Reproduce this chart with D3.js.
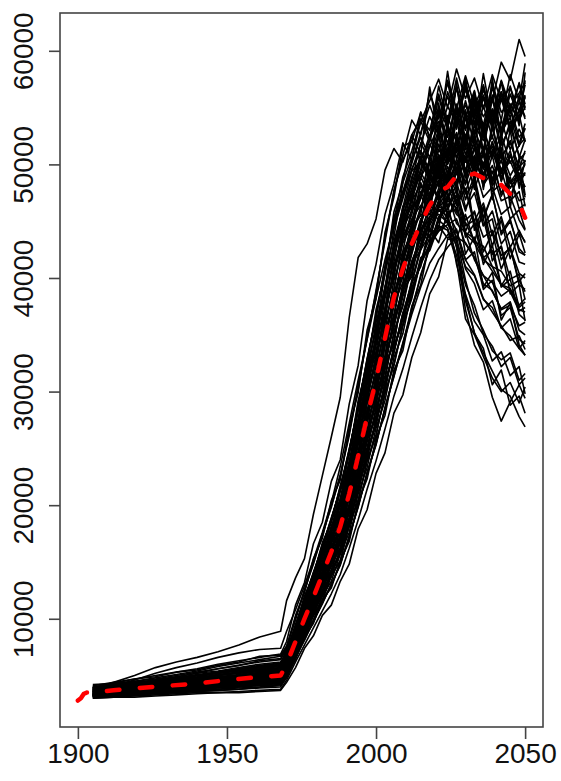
<!DOCTYPE html>
<html>
<head>
<meta charset="utf-8">
<script src="https://cdn.jsdelivr.net/npm/d3@7"></script>
<style>
  body { margin: 0; background: #fff; }
  text { font-family: "Liberation Sans", Arial, sans-serif; }
</style>
</head>
<body>
<div id="chart"></div>
<script>
// simulated runs, values in thousands, one value per entry of runYears
const runYears = [1905,1912,1919,1926,1933,1940,1947,1954,1961,1968,
  1970,1973,1976,1979,1982,1985,1988,1991,1994,1997,
  2000,2003,2006,2009,2012,2015,2018,2021,2024,2027,
  2030,2033,2036,2039,2042,2045,2048,2050];

const runs = [
  [3.8,4.4,5.0,5.7,6.2,6.6,7.1,7.7,8.4,8.9, 11.6,13.6,15.3,19.2,22.6,26.0,29.5,36.5,41.8,43.0, 45.2,49.5,51.4,50.2,52.6,54.0,53.0,56.2,53.5,56.8, 53.2,55.8,52.4,54.6,51.2,53.8,50.6,52.2],
  [3.7,4.1,4.6,5.2,5.7,6.1,6.6,7.0,7.3,7.4, 8.9,10.8,12.9,15.2,17.6,20.2,23.4,27.2,31.0,34.6, 38.2,41.6,44.6,47.2,50.1,52.8,55.2,53.1,57.4,54.9, 57.8,55.2,56.9,53.8,56.4,52.9,54.8,55.9],
  [3.9,4.0,4.3,4.6,4.9,5.2,5.6,5.9,6.2,6.4, 7.3,9.3,11.6,13.7,16.1,18.7,21.6,24.9,28.4,31.9, 35.6,39.1,42.6,45.4,47.9,50.6,52.1,54.6,52.4,55.2, 53.0,56.1,54.2,55.6,59.0,57.4,61.0,59.5],
  [4.2,4.3,4.7,4.9,5.3,5.5,5.9,6.2,6.7,6.8, 7.6,9.9,12.6,14.8,17.5,19.8,22.7,26.1,30.6,34.6, 38.9,43.2,47.6,50.8,53.9,52.6,56.3,54.0,57.2,53.8, 56.6,54.1,57.0,53.5,56.2,54.8,57.1,55.0],
  [3.9,4.1,4.2,4.5,4.8,4.9,5.3,5.5,5.8,6.0, 7.0,9.5,11.7,14.1,16.3,18.9,21.3,24.9,28.6,32.9, 36.5,41.0,45.0,48.9,51.2,53.8,55.6,57.5,55.0,58.4, 55.8,57.6,54.9,57.9,55.6,56.8,54.6,57.0],
  [4.0,4.2,4.4,4.6,4.9,5.2,5.4,5.7,6.0,6.2, 6.9,9.1,11.1,13.4,15.5,17.9,20.1,23.6,27.0,31.3, 34.5,39.1,42.8,46.2,49.5,51.8,54.2,52.6,56.4,54.0, 57.3,53.6,55.9,53.1,56.2,52.8,54.4,52.0],
  [3.7,3.8,3.9,4.1,4.3,4.4,4.7,4.9,5.1,5.3, 6.5,8.4,10.7,12.5,14.8,16.8,19.3,22.1,25.9,29.4, 33.0,36.6,40.7,43.9,47.3,49.6,52.2,54.8,53.3,56.7, 54.1,56.2,53.4,57.1,54.6,55.3,53.7,56.0],
  [3.5,3.7,3.8,4.0,4.1,4.4,4.5,4.8,4.9,5.1, 6.1,7.9,10.1,11.8,14.0,15.8,18.2,20.9,24.4,27.6, 31.2,34.5,38.4,41.4,44.9,47.3,50.4,52.6,55.1,53.6, 56.8,54.2,56.1,53.8,57.3,54.5,55.7,54.0],
  [3.6,3.6,3.8,3.9,4.1,4.3,4.5,4.6,4.9,5.0, 5.7,7.4,9.5,11.1,13.2,14.8,17.1,19.6,22.9,26.0, 29.3,32.4,36.2,39.0,42.4,44.6,47.5,49.8,51.4,53.9, 55.2,53.4,56.6,54.2,57.4,55.1,56.3,57.2],
  [3.4,3.5,3.6,3.7,3.8,4.0,4.1,4.3,4.4,4.6, 5.3,7.1,8.7,10.6,12.1,14.1,15.8,18.6,21.3,24.6, 27.2,30.7,33.5,36.8,39.6,42.5,44.8,47.6,49.1,51.8, 50.6,53.4,52.1,54.6,52.8,55.3,53.9,55.1],
  [4.0,4.3,4.5,4.8,5.1,5.4,5.8,6.1,6.4,6.7, 7.4,10.1,12.4,15.0,17.3,20.0,22.5,26.4,30.2,34.9, 38.7,43.5,47.7,50.4,52.1,50.2,52.6,49.8,51.9,49.4, 52.3,50.1,51.2,48.6,50.4,47.9,49.2,47.1],
  [3.9,4.0,4.3,4.4,4.7,5.0,5.2,5.4,5.6,5.9, 7.1,9.3,11.9,13.9,16.5,18.7,21.5,24.7,28.8,32.7, 36.7,40.8,45.3,47.6,50.3,52.4,50.6,53.1,51.0,52.8, 50.2,52.5,49.9,51.6,49.3,50.8,48.6,49.2],
  [3.7,3.9,4.1,4.3,4.5,4.8,5.0,5.3,5.5,5.7, 6.8,8.9,11.3,13.2,15.7,17.7,20.4,23.4,27.3,30.9, 34.8,38.7,43.0,45.8,48.9,50.6,48.7,51.8,49.2,52.1, 48.8,51.4,49.6,52.0,48.5,50.9,49.0,50.1],
  [3.6,3.8,4.0,4.1,4.3,4.5,4.6,4.9,5.1,5.2, 6.3,8.6,10.5,12.7,14.6,17.0,19.1,22.4,25.7,29.6, 32.8,36.9,40.5,44.2,46.9,49.3,51.8,50.1,53.0,50.6, 52.4,49.7,51.0,48.1,49.5,46.8,47.6,45.2],
  [3.5,3.6,3.8,4.0,4.2,4.3,4.6,4.7,5.0,5.1, 6.0,8.1,9.9,12.0,13.8,16.0,18.0,21.1,24.2,27.9, 30.9,34.8,38.2,41.7,44.5,47.2,49.1,51.3,50.0,52.2, 50.4,51.8,49.6,51.1,49.2,50.3,48.4,48.0],
  [3.4,3.6,3.7,3.9,4.1,4.3,4.4,4.7,4.8,5.0, 5.9,7.9,10.0,11.8,14.0,15.9,18.2,20.8,24.4,27.7, 31.1,34.6,38.4,41.5,43.8,46.2,48.4,47.1,49.8,48.0, 50.6,47.8,50.2,48.3,51.1,49.0,50.4,51.0],
  [3.5,3.6,3.7,3.8,4.0,4.2,4.3,4.5,4.7,4.9, 5.6,7.6,9.3,11.3,13.0,15.0,16.9,19.8,22.7,26.2, 29.0,32.7,35.9,39.2,42.1,45.0,47.4,49.6,48.3,51.5, 49.0,50.8,48.2,49.4,46.8,47.2,45.1,44.2],
  [3.3,3.5,3.6,3.8,3.9,4.1,4.3,4.4,4.6,4.8, 5.5,7.4,9.5,11.1,13.2,14.8,17.1,19.6,22.9,26.0, 29.2,32.5,36.1,39.0,42.3,45.1,47.0,49.5,51.3,49.6, 52.4,50.2,53.0,50.7,52.6,50.1,51.7,52.3],
  [3.3,3.4,3.5,3.6,3.8,3.9,4.1,4.2,4.4,4.5, 5.2,7.0,8.9,10.4,12.3,13.9,16.0,18.4,21.5,24.4, 27.4,30.4,33.8,36.5,39.8,42.6,44.9,46.8,48.5,50.1, 48.2,50.6,48.4,49.9,47.5,48.6,46.8,47.0],
  [3.2,3.4,3.5,3.6,3.7,3.9,4.0,4.2,4.3,4.5, 5.3,7.1,8.7,10.6,12.1,14.1,15.8,18.6,21.3,24.6, 27.2,30.6,33.6,36.9,39.5,42.8,45.3,47.9,50.2,51.8, 50.5,53.0,51.1,52.4,50.6,51.9,49.8,50.3],
  [3.2,3.3,3.4,3.5,3.6,3.7,3.8,4.0,4.1,4.2, 4.9,6.6,8.3,9.7,11.5,12.9,14.9,17.1,20.0,22.7, 25.5,28.4,31.6,34.2,37.4,40.1,42.9,45.2,47.1,48.6, 50.4,48.9,51.0,49.2,50.3,48.4,49.6,49.0],
  [3.1,3.2,3.3,3.4,3.5,3.6,3.7,3.8,4.0,4.1, 4.8,6.6,8.1,9.8,11.3,13.1,14.7,17.3,19.8,22.9, 25.3,28.6,31.3,34.3,37.1,40.3,42.6,45.0,46.8,49.3, 47.6,49.8,47.1,48.0,45.6,46.3,44.0,43.2],
  [3.8,4.0,4.2,4.4,4.6,4.8,5.1,5.3,5.6,5.8, 6.7,9.0,11.2,13.4,15.5,17.9,20.2,23.6,27.1,31.2, 34.6,38.8,42.7,45.1,46.8,48.2,47.0,48.6,46.4,47.3, 45.1,45.8,43.6,44.2,42.0,42.6,40.4,40.0],
  [3.6,3.7,3.9,4.0,4.2,4.4,4.6,4.8,5.0,5.2, 6.4,8.4,10.6,12.5,14.7,16.8,19.2,22.2,25.8,29.4, 32.9,36.8,40.6,43.6,45.2,46.4,45.6,47.2,45.8,46.0, 43.9,43.1,41.6,41.0,39.4,39.1,37.2,37.0],
  [3.4,3.5,3.7,3.8,4.0,4.1,4.3,4.5,4.6,4.8, 5.9,8.0,9.9,11.9,13.8,15.9,18.0,21.0,24.2,27.8, 30.9,34.7,38.2,40.9,43.2,44.3,45.4,46.1,44.8,43.2, 41.0,40.2,38.1,37.4,35.6,34.9,33.8,33.2],
  [3.3,3.4,3.6,3.7,3.9,4.0,4.2,4.3,4.5,4.7, 5.6,7.5,9.4,11.2,13.1,14.9,17.0,19.7,22.8,26.1, 29.1,32.6,36.0,38.9,41.5,43.4,45.0,46.2,47.1,45.6, 44.9,43.2,42.8,41.0,40.6,39.3,39.8,38.8],
  [3.2,3.3,3.4,3.6,3.7,3.8,4.0,4.1,4.3,4.4, 5.3,7.0,8.8,10.5,12.2,14.0,15.9,18.5,21.4,24.5, 27.3,30.5,33.7,36.5,39.1,41.2,42.9,44.1,44.7,45.2, 43.0,41.8,39.5,38.9,37.2,37.6,35.8,36.1],
  [3.1,3.2,3.3,3.4,3.5,3.6,3.7,3.8,3.9,4.0, 4.9,6.6,8.2,9.8,11.4,13.0,14.8,17.2,19.9,22.8, 25.4,28.5,31.4,34.1,36.8,39.2,41.3,42.6,43.8,44.1, 41.6,40.3,38.2,37.0,35.8,34.5,34.9,33.7],
  [3.0,3.1,3.2,3.3,3.4,3.5,3.5,3.6,3.7,3.8, 4.6,6.2,7.7,9.2,10.7,12.2,13.9,16.2,18.7,21.4, 23.9,26.7,29.6,32.0,34.8,37.4,39.8,41.6,42.7,43.6, 43.1,41.8,40.2,39.6,38.4,39.0,37.6,38.2],
  [3.9,4.1,4.3,4.5,4.7,5.0,5.2,5.5,5.7,6.0, 7.1,9.4,11.8,14.0,16.4,18.8,21.4,24.8,28.7,32.8, 36.6,40.9,44.8,47.6,49.4,50.3,48.6,49.1,46.8,46.2, 44.0,43.5,41.8,40.6,39.4,38.8,37.1,37.4],
  [3.5,3.6,3.8,3.9,4.1,4.3,4.4,4.6,4.8,4.9, 6.0,8.0,10.1,11.9,13.9,15.9,18.1,21.0,24.3,27.9, 30.8,34.6,38.3,40.7,42.8,44.1,45.2,45.6,44.9,42.8, 37.2,34.1,32.6,29.5,27.4,29.1,30.6,29.4],
  [3.6,3.7,3.9,4.1,4.2,4.4,4.6,4.8,5.0,5.1, 6.3,8.5,10.6,12.6,14.7,16.9,19.2,22.3,25.8,29.5, 32.9,36.8,40.6,43.1,44.6,45.5,46.3,45.9,46.4,43.4, 38.0,35.2,33.4,31.8,30.2,29.6,27.8,26.9],
  [3.3,3.4,3.5,3.7,3.8,4.0,4.1,4.3,4.4,4.6, 5.6,7.5,9.4,11.2,13.1,14.9,17.0,19.7,22.8,26.1, 29.1,32.6,36.0,38.8,41.2,42.5,43.8,44.6,44.2,41.5, 36.4,35.0,33.1,31.2,30.0,30.8,29.0,30.4],
  [3.2,3.3,3.4,3.5,3.7,3.8,3.9,4.1,4.2,4.3, 5.3,7.0,8.8,10.5,12.2,14.0,15.9,18.5,21.4,24.5, 27.3,30.5,33.7,36.4,39.0,41.3,43.0,44.2,45.1,43.6, 39.8,36.9,35.4,33.6,32.8,33.4,31.0,31.6],
  [3.7,3.9,4.1,4.2,4.5,4.7,4.9,5.1,5.4,5.5, 6.7,9.0,11.2,13.3,15.6,17.8,20.3,23.5,27.2,31.1, 34.7,38.9,42.6,44.8,46.3,47.2,46.0,45.1,44.4,42.0, 38.6,36.2,35.0,32.7,33.5,31.4,32.2,29.8],
  [3.8,3.9,4.2,4.3,4.6,4.8,5.1,5.2,5.5,5.6, 6.6,8.5,11.2,12.7,15.6,17.0,20.2,22.5,27.1,30.0, 34.4,37.2,42.4,45.0,48.6,51.9,50.3,54.6,51.8,55.3, 52.4,54.9,51.2,55.8,52.9,54.1,51.6,53.2],
  [3.6,3.8,3.9,4.1,4.3,4.4,4.6,4.9,5.0,5.2, 6.1,8.4,10.1,12.6,14.0,16.7,18.3,22.0,24.6,29.0, 31.5,36.2,39.0,43.5,45.6,48.9,47.2,50.8,48.1,50.2, 46.9,49.0,45.3,47.4,43.8,45.0,42.6,42.0],
  [3.5,3.6,3.7,3.9,4.0,4.2,4.4,4.5,4.7,4.9, 5.8,7.5,9.9,11.2,13.8,15.1,17.9,20.0,24.1,26.5, 30.6,33.2,37.8,40.1,43.9,46.0,49.4,51.2,54.3,52.0, 55.6,52.7,55.9,53.4,56.4,53.2,55.5,54.2],
  [3.3,3.4,3.6,3.7,3.8,4.0,4.1,4.3,4.4,4.6, 5.5,7.1,9.3,10.6,12.9,14.2,16.8,18.7,22.5,24.8, 28.6,31.0,35.3,37.5,41.2,43.0,46.1,47.3,49.0,46.8, 47.9,44.6,45.2,42.1,42.8,39.9,40.3,38.1],
  [3.2,3.3,3.4,3.5,3.6,3.8,3.9,4.0,4.2,4.3, 5.1,6.9,8.4,10.3,11.6,13.8,15.1,18.2,20.4,23.9, 26.1,29.9,32.3,35.8,38.4,41.6,43.5,46.4,47.6,50.5, 48.4,51.6,49.1,52.0,49.5,51.2,48.2,49.3],
  [3.9,4.1,4.3,4.6,4.8,5.0,5.3,5.6,5.8,6.1, 6.9,9.4,11.3,14.0,15.8,18.6,20.5,24.6,27.6,32.4, 35.3,40.5,43.6,48.4,50.6,53.8,52.0,55.9,53.2,56.8, 53.9,55.4,52.6,54.8,51.7,53.3,50.8,50.2],
  [3.5,3.7,3.8,4.0,4.1,4.3,4.5,4.6,4.8,5.0, 6.0,8.2,9.8,12.2,13.6,16.3,17.8,21.4,23.9,28.3, 30.6,35.2,37.8,42.0,44.1,47.6,46.0,50.2,48.3,52.6, 49.5,51.4,48.0,50.8,47.2,48.9,46.1,46.5],
  [3.4,3.5,3.6,3.8,3.9,4.1,4.2,4.4,4.5,4.7, 5.6,7.7,9.2,11.5,12.8,15.3,16.7,20.1,22.5,26.6, 28.8,33.1,35.6,39.5,41.0,44.2,43.6,46.0,45.4,42.7, 39.4,37.6,35.1,34.0,32.2,33.0,30.6,31.2],
  [3.7,3.8,4.0,4.2,4.4,4.6,4.7,5.0,5.2,5.4, 6.4,8.3,10.8,12.4,15.0,16.6,19.5,21.9,26.2,29.1, 33.3,36.4,41.1,43.7,47.0,50.2,48.8,52.9,50.4,54.2, 51.6,55.3,52.5,54.9,53.1,56.2,54.0,57.4],
  [3.3,3.5,3.6,3.7,3.9,4.0,4.2,4.3,4.5,4.6, 5.5,7.4,8.9,11.0,12.4,14.8,16.2,19.5,21.8,25.7, 27.9,32.0,34.5,38.4,40.6,44.2,46.1,49.5,51.2,54.6, 52.3,55.8,53.1,56.1,52.6,55.0,52.4,53.1],
  [3.8,3.9,4.1,4.3,4.5,4.7,5.0,5.2,5.4,5.6, 6.7,8.8,11.4,13.1,15.9,17.5,20.6,23.2,27.5,30.7, 35.0,38.5,43.2,46.0,48.3,50.7,48.5,50.9,47.8,49.6, 46.2,47.5,44.6,45.9,43.0,44.1,41.4,41.2],
  [3.4,3.6,3.7,3.8,4.0,4.2,4.3,4.5,4.7,4.8, 5.8,7.9,9.6,11.8,13.3,15.6,17.3,20.7,23.2,27.3, 29.8,34.0,36.8,40.8,43.3,46.2,48.1,50.4,48.6,51.9, 49.3,52.2,48.9,51.3,48.6,50.8,49.1,50.0],
  [3.6,3.7,3.9,4.0,4.2,4.4,4.6,4.7,4.9,5.1, 6.2,8.0,10.5,12.0,14.6,16.1,18.9,21.2,25.3,28.2, 32.3,35.3,39.8,42.4,46.1,48.8,51.6,53.4,56.0,53.7, 57.1,54.4,56.8,53.6,56.3,54.1,57.2,55.3],
  [3.2,3.4,3.5,3.6,3.7,3.9,4.0,4.2,4.3,4.4, 5.3,7.2,8.6,10.8,12.0,14.3,15.7,18.8,21.2,24.8, 27.1,30.8,33.4,36.9,38.7,41.8,42.4,44.6,43.5,44.3, 40.8,39.5,37.2,38.0,35.6,36.4,33.8,34.5],
  [3.7,3.9,4.0,4.2,4.4,4.6,4.8,5.0,5.3,5.4, 6.5,8.9,10.7,13.3,15.0,17.6,19.5,23.2,26.3,30.6, 33.5,38.2,41.4,45.6,47.4,50.5,49.0,52.4,50.1,53.8, 50.9,52.6,49.7,53.2,50.5,52.1,49.6,51.2],
  [3.2,3.3,3.5,3.6,3.7,3.8,4.0,4.1,4.2,4.4, 5.1,6.6,8.7,9.9,12.0,13.3,15.7,17.6,21.0,23.3, 26.8,29.2,33.0,35.1,38.9,41.2,44.6,46.2,49.4,48.3, 51.6,49.8,53.2,50.6,53.9,51.3,53.1,52.0],
  [3.5,3.6,3.7,3.9,4.1,4.2,4.4,4.6,4.8,4.9, 6.0,7.8,10.2,11.6,14.2,15.6,18.4,20.7,24.6,27.4, 31.3,34.3,38.6,41.1,44.8,47.0,50.6,48.8,53.4,50.5, 52.6,49.4,50.8,47.6,48.3,45.2,46.0,44.3],
  [3.4,3.5,3.6,3.8,3.9,4.1,4.3,4.4,4.6,4.7, 5.6,7.3,9.6,11.0,13.4,14.7,17.3,19.4,23.1,25.8, 29.4,32.3,36.4,38.8,42.6,44.9,48.2,50.0,53.1,51.2, 54.5,51.9,55.2,52.3,55.8,53.0,54.7,56.1],
  [3.6,3.8,3.9,4.1,4.3,4.5,4.7,4.9,5.1,5.3, 6.4,8.7,10.4,12.9,14.5,17.2,18.9,22.7,25.5,29.9, 32.6,37.1,40.3,44.4,45.9,47.4,48.3,46.9,47.6,44.8, 44.0,41.6,40.2,38.8,37.3,37.9,35.4,35.0],
  [3.3,3.4,3.5,3.7,3.8,4.0,4.1,4.3,4.4,4.5, 5.5,7.2,9.2,10.7,12.8,14.3,16.7,18.9,22.3,25.1, 28.4,31.4,35.1,37.7,41.4,43.6,46.7,48.4,50.8,49.1, 52.0,49.6,51.5,48.7,50.9,48.3,49.2,48.0],
  [3.0,3.1,3.1,3.2,3.3,3.4,3.5,3.5,3.6,3.7, 4.4,5.7,7.4,8.5,10.3,11.2,13.3,14.8,17.9,19.6, 22.8,24.6,28.1,29.7,33.0,35.2,38.6,40.1,43.4,43.5, 45.6,43.1,46.2,42.8,45.1,41.7,43.9,42.2],
  [4.1,4.4,4.7,5.0,5.3,5.6,6.0,6.3,6.6,6.9, 8.0,11.2,13.2,16.6,18.5,22.1,24.0,28.9,32.3,38.0, 41.2,45.6,48.3,51.9,50.4,54.6,52.3,56.9,53.8,57.6, 54.2,56.5,52.9,55.8,52.4,54.9,51.8,53.6],
  [3.5,3.7,3.8,3.9,4.1,4.3,4.5,4.7,4.8,5.0, 5.9,8.3,9.7,12.3,13.5,16.4,17.6,21.6,23.8,28.4, 30.2,35.4,37.6,42.3,43.9,48.4,46.2,52.8,47.6,55.3, 48.9,54.6,47.8,53.9,48.6,53.1,47.9,50.4],
  [3.3,3.5,3.6,3.7,3.9,4.1,4.2,4.4,4.6,4.7, 5.7,7.3,9.6,10.9,13.4,14.6,17.4,19.3,23.2,25.6, 29.6,32.0,36.5,38.5,43.0,44.5,49.2,46.8,53.6,47.4, 54.8,48.1,53.6,46.9,52.4,46.2,50.6,47.3],
  [3.8,4.0,4.1,4.3,4.6,4.8,5.0,5.2,5.5,5.7, 6.6,9.2,11.0,13.6,15.3,18.2,19.9,23.9,26.8,31.6, 34.3,39.2,42.4,46.3,47.1,49.3,47.8,48.9,45.3,46.8, 42.1,43.6,39.2,40.5,36.3,37.8,34.1,33.2],
  [3.7,3.8,4.0,4.2,4.3,4.5,4.8,4.9,5.2,5.3, 6.3,8.7,10.4,12.9,14.5,17.3,18.9,22.8,25.5,30.1, 32.5,37.4,40.0,44.8,46.4,51.2,49.0,55.4,50.6,57.2, 51.3,56.4,50.8,57.6,52.2,56.9,53.4,58.1],
  [3.1,3.2,3.3,3.5,3.6,3.7,3.8,3.9,4.0,4.2, 5.0,6.4,8.4,9.6,11.7,12.7,15.1,16.8,20.3,22.3, 25.9,27.9,31.9,33.6,37.5,39.4,43.2,44.4,48.3,45.8, 49.6,44.2,46.3,41.5,42.8,38.6,39.4,36.2],
  [3.9,4.1,4.4,4.5,4.8,5.1,5.3,5.6,5.9,6.1, 7.2,9.2,12.0,13.8,16.7,18.5,21.7,24.4,29.2,32.3, 37.2,40.3,45.8,48.4,52.6,50.9,56.8,52.4,58.2,53.1, 57.6,52.5,58.0,53.7,57.3,52.8,56.1,54.8],
  [3.2,3.3,3.5,3.6,3.7,3.9,4.0,4.1,4.3,4.4, 5.3,6.9,9.0,10.3,12.5,13.7,16.2,18.1,21.8,24.0, 27.7,30.0,34.1,35.9,39.6,41.0,44.3,43.1,45.8,41.2, 38.4,35.1,33.8,30.6,31.9,28.8,29.6,28.1],
  [3.4,3.5,3.7,3.8,4.0,4.1,4.3,4.5,4.6,4.8, 5.9,7.6,9.9,11.3,13.8,15.0,17.9,19.8,23.9,26.3, 30.5,32.8,37.7,39.6,44.1,45.6,50.2,48.1,53.7,49.2, 54.3,49.6,52.8,48.3,51.4,47.2,49.1,46.3],
  [4.0,4.2,4.5,4.7,5.0,5.3,5.6,5.9,6.3,6.5, 7.5,10.3,12.3,15.3,17.1,20.4,22.2,26.9,29.9,35.4, 38.2,44.0,47.1,51.6,52.0,54.6,52.4,53.8,50.1,51.2, 47.4,48.3,44.6,45.2,41.6,42.8,39.4,39.0],
  [3.3,3.4,3.6,3.7,3.8,4.0,4.2,4.3,4.5,4.6, 5.4,7.5,8.9,11.1,12.4,14.9,16.2,19.6,21.8,25.9, 27.8,32.2,34.3,38.9,40.3,45.0,46.4,50.8,50.2,54.9, 51.8,55.7,52.6,56.8,53.9,57.9,55.6,58.9],
  [3.6,3.7,3.8,4.0,4.2,4.4,4.5,4.7,4.9,5.1, 6.2,8.3,10.2,12.4,14.2,16.6,18.4,21.9,24.7,29.0, 31.6,36.0,39.0,43.3,45.0,48.2,46.6,49.3,46.0,47.8, 44.1,45.9,42.3,44.0,40.8,42.6,39.7,40.4],
  [3.3,3.4,3.6,3.7,3.8,4.0,4.1,4.3,4.5,4.6, 5.5,7.5,8.9,11.2,12.3,15.0,16.1,19.8,21.6,26.0, 27.6,32.3,34.2,39.0,40.1,44.0,43.2,46.8,45.1,47.3, 43.6,44.8,41.2,42.9,39.3,40.6,37.4,37.9],
  [3.7,3.9,4.0,4.2,4.4,4.6,4.9,5.0,5.3,5.5, 6.6,8.6,11.1,12.8,15.4,17.0,20.0,22.6,26.8,29.9, 34.1,37.2,42.0,44.6,47.8,48.9,50.3,48.1,49.2,46.4, 47.8,45.0,46.6,43.8,45.4,42.7,44.2,43.1],
  [3.4,3.5,3.7,3.8,3.9,4.1,4.3,4.4,4.6,4.8, 5.8,7.9,9.5,11.8,13.2,15.7,17.1,20.8,23.0,27.4, 29.5,34.1,36.5,40.9,42.3,45.2,44.1,46.3,45.8,44.2, 41.6,42.3,39.0,39.8,36.7,37.4,34.6,34.2],
  [3.2,3.3,3.4,3.6,3.7,3.8,4.0,4.1,4.3,4.4, 5.1,6.9,8.4,10.3,11.6,13.8,15.1,18.3,20.4,23.9, 26.2,29.8,32.4,35.9,38.2,41.5,42.8,45.4,46.1,48.4, 45.9,48.6,45.2,47.3,44.0,45.2,42.3,42.0],
  [3.9,4.0,4.3,4.5,4.7,4.9,5.2,5.4,5.7,5.9, 7.0,9.1,11.7,13.5,16.3,17.9,21.2,23.7,28.3,31.3, 36.1,39.1,44.3,47.0,49.6,51.2,49.4,50.1,47.2,48.0, 44.6,45.1,41.8,42.4,39.2,39.9,36.8,36.3]
];

// mean of the runs (red dashed), thousands
const meanYears = [1900,1901,1902,1903,1904,1905,1908,1912,1920,1930,1940,1950,1958,1962,1968,
  1970,1973,1976,1979,1982,1985,1988,1991,1994,1997,
  2000,2003,2006,2009,2012,2015,2018,2021,2024,2027,
  2030,2033,2036,2039,2042,2045,2048,2050];
const meanRun = [2.8,3.0,3.4,3.5,3.5,3.4,3.6,3.7,3.9,4.1,4.3,4.6,4.8,4.9,5.0,
  6.0,8.0,10.0,11.9,13.9,15.9,18.1,21.0,24.3,27.8,
  31.0,34.7,38.3,40.8,43.0,44.8,46.4,47.6,48.0,49.0,
  48.9,49.2,48.8,48.8,48.2,47.4,46.6,45.3];

const xTicks = [1900, 1950, 2000, 2050];
const yTicks = [10000, 20000, 30000, 40000, 50000, 60000];

const width = 561, height = 781;
const margin = {top: 13, right: 18, bottom: 54, left: 60};

const svg = d3.select("#chart")
  .append("svg")
  .attr("width", width)
  .attr("height", height);

// R style axis limits: data range stretched by 4% each side
const padRange = (lo, hi) => [lo - (hi - lo) * 0.04, hi + (hi - lo) * 0.04];

const allVals = runs.flat().concat(meanRun).map(v => v * 1000);
const x = d3.scaleLinear()
  .domain(padRange(d3.min(meanYears), d3.max(meanYears)))
  .range([margin.left, width - margin.right]);
const y = d3.scaleLinear()
  .domain(padRange(d3.min(allVals), d3.max(allVals)))
  .range([height - margin.bottom, margin.top]);

const runLine = d3.line()
  .x((d, i) => x(runYears[i]))
  .y(d => y(d * 1000));

svg.append("g")
  .selectAll("path")
  .data(runs)
  .enter()
  .append("path")
  .attr("d", runLine)
  .attr("fill", "none")
  .attr("stroke", "#000")
  .attr("stroke-width", 1.6)
  .attr("stroke-linejoin", "round");

const meanLine = d3.line()
  .x((d, i) => x(meanYears[i]))
  .y(d => y(d * 1000));

svg.append("path")
  .datum(meanRun)
  .attr("d", meanLine)
  .attr("fill", "none")
  .attr("stroke", "#ff0000")
  .attr("stroke-width", 4.5)
  .attr("stroke-linecap", "round")
  .attr("stroke-linejoin", "round")
  .attr("stroke-dasharray", "12.5,20.5");

// box
svg.append("rect")
  .attr("x", margin.left)
  .attr("y", margin.top)
  .attr("width", width - margin.left - margin.right)
  .attr("height", height - margin.top - margin.bottom)
  .attr("fill", "none")
  .attr("stroke", "#444")
  .attr("stroke-width", 1.6);

// axes
const xAxis = d3.axisBottom(x)
  .tickValues(xTicks)
  .tickSize(12)
  .tickPadding(14)
  .tickFormat(d3.format("d"));

const gx = svg.append("g")
  .attr("transform", `translate(0, ${height - margin.bottom})`)
  .call(xAxis);

const yAxis = d3.axisLeft(y)
  .tickValues(yTicks)
  .tickSize(11)
  .tickFormat(d3.format("d"));

const gy = svg.append("g")
  .attr("transform", `translate(${margin.left}, 0)`)
  .call(yAxis);

[gx, gy].forEach(g => {
  g.select(".domain").remove();
  g.selectAll(".tick line").attr("stroke", "#444").attr("stroke-width", 1.6);
  g.selectAll(".tick text")
    .attr("fill", "#111")
    .style("font-size", "28px");
});

gx.selectAll(".tick text")
  .attr("y", 36)
  .attr("dy", null);

gy.selectAll(".tick text")
  .attr("x", null)
  .attr("dy", null)
  .attr("text-anchor", "middle")
  .attr("transform", "translate(-27, 0) rotate(-90)");
</script>
</body>
</html>
